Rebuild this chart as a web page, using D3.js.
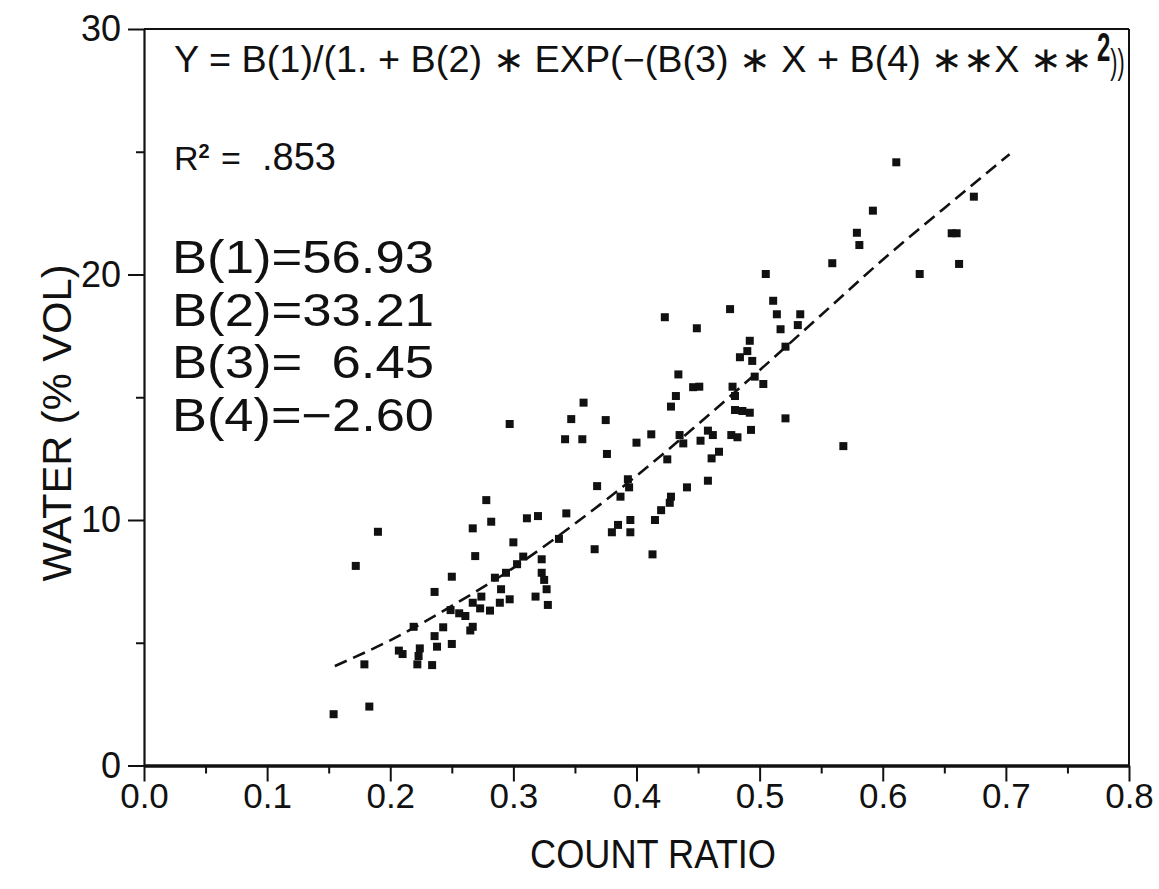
<!DOCTYPE html>
<html><head><meta charset="utf-8">
<script src="https://cdn.jsdelivr.net/npm/d3@7/dist/d3.min.js"></script>
<style>
html,body{margin:0;padding:0;background:#fff;}
svg text{font-family:"Liberation Sans",Arial,sans-serif;fill:#111;}
</style></head>
<body>
<svg id="chart" width="1159" height="889"></svg>
<script>
// ---- data ----
const countRatio = [0.172,0.236,0.219,0.236,0.238,0.207,0.210,0.224,0.223,0.222,0.234,0.179,0.183,0.154,
0.357,0.347,0.342,0.356,0.297,0.368,0.278,0.282,0.267,0.311,0.320,0.343,0.190,0.300,0.269,0.337,0.366,0.308,0.303,0.323,
0.250,0.323,0.325,0.327,0.318,0.328,0.285,0.294,0.290,0.274,0.267,0.273,0.281,0.289,0.297,0.249,0.256,0.261,0.243,0.267,
0.559,0.505,0.511,0.476,0.514,0.533,0.423,0.531,0.449,0.517,0.492,0.521,0.490,0.484,0.494,0.434,0.496,0.503,0.446,0.451,
0.478,0.432,0.480,0.428,0.375,0.480,0.486,0.492,0.521,0.412,0.400,0.435,0.438,0.458,0.462,0.452,0.477,0.482,0.493,0.568,
0.376,0.425,0.467,0.461,0.393,0.394,0.441,0.458,0.387,0.428,
0.611,0.674,0.592,0.579,0.581,0.656,0.660,0.662,0.630,
0.380,0.385,0.395,0.395,0.413,0.415,0.420,0.427,0.250,0.265];
const water = [8.13,7.07,5.65,5.27,4.84,4.68,4.54,4.77,4.46,4.12,4.09,4.12,2.40,2.09,
14.78,14.11,13.29,13.29,13.91,11.38,10.81,9.93,9.66,10.07,10.16,10.27,9.52,9.09,8.53,9.23,8.81,8.51,8.20,8.40,
7.69,7.85,7.56,7.18,6.88,6.54,7.65,7.85,7.18,6.88,6.63,6.40,6.31,6.63,6.77,6.33,6.20,6.09,5.63,5.65,
20.46,20.02,18.93,18.59,18.38,18.38,18.26,17.94,17.81,17.77,17.30,17.06,16.88,16.63,16.48,15.93,15.84,15.54,15.41,15.43,
15.43,15.05,15.05,14.62,14.07,14.48,14.44,14.37,14.14,13.49,13.15,13.46,13.12,13.64,13.46,13.23,13.46,13.37,13.67,13.01,
12.69,12.47,12.78,12.51,11.66,11.33,11.33,11.60,10.95,10.95,
24.57,23.17,22.60,21.70,21.20,21.68,21.68,20.43,20.02,
9.5,9.8,9.5,10.0,8.6,10.0,10.4,10.7,4.95,5.5];

// fitted curve
const fitX = [0.155,0.20,0.25,0.30,0.35,0.40,0.45,0.50,0.55,0.60,0.65,0.703];
const fitY = [4.05,5.10,6.50,8.05,9.85,11.80,13.90,16.10,18.35,20.60,22.70,24.90];

const xTicks = [0,0.1,0.2,0.3,0.4,0.5,0.6,0.7,0.8];
const xTickLabels = ["0.0","0.1","0.2","0.3","0.4","0.5","0.6","0.7","0.8"];
const xMinorTicks = [0.05,0.15,0.25,0.35,0.45,0.55,0.65,0.75];
const yTicks = [0,10,20,30];
const yTickLabels = ["0","10","20","30"];
const yMinorTicks = [5,15,25];

const paramLabels = ["B(1)=56.93","B(2)=33.21","B(3)=  6.45","B(4)=\u22122.60"];

// ---- drawing ----
const svg = d3.select("#chart");
const x = d3.scaleLinear().domain([0,0.8]).range([144,1129]);
const y = d3.scaleLinear().domain([0,30]).range([765.5,29]);

// frame top & right
svg.append("line").attr("x1",x(0)).attr("x2",x(0.8)).attr("y1",y(30)).attr("y2",y(30)).attr("stroke","#111").attr("stroke-width",2);
svg.append("line").attr("x1",x(0.8)).attr("x2",x(0.8)).attr("y1",y(30)).attr("y2",y(0)).attr("stroke","#111").attr("stroke-width",2);

// x axis
const gx = svg.append("g").attr("transform",`translate(0,${y(0)})`)
  .call(d3.axisBottom(x).tickValues(xTicks).tickFormat((d,i)=>xTickLabels[i]).tickSize(16).tickPadding(2).tickSizeOuter(0));
const gxm = svg.append("g").attr("transform",`translate(0,${y(0)})`)
  .call(d3.axisBottom(x).tickValues(xMinorTicks).tickFormat("").tickSize(8).tickSizeOuter(0));
// y axis
const gy = svg.append("g").attr("transform",`translate(${x(0)},0)`)
  .call(d3.axisLeft(y).tickValues(yTicks).tickFormat((d,i)=>yTickLabels[i]).tickSize(16).tickPadding(7).tickSizeOuter(0));
const gym = svg.append("g").attr("transform",`translate(${x(0)},0)`)
  .call(d3.axisLeft(y).tickValues(yMinorTicks).tickFormat("").tickSize(8).tickSizeOuter(0));

[gx,gxm,gy,gym].forEach(g=>{
  g.selectAll("path.domain").attr("stroke","#111");
  g.selectAll(".tick line").attr("stroke","#111").attr("stroke-width",2);
});
gx.select("path.domain").attr("stroke-width",3.5);
gy.select("path.domain").attr("stroke-width",2.2);
gxm.select("path.domain").attr("stroke","none");
gym.select("path.domain").attr("stroke","none");
gx.selectAll(".tick text").attr("font-size",35).attr("fill","#111").attr("font-family","Liberation Sans, Arial, sans-serif");
gy.selectAll(".tick text").attr("font-size",36).attr("fill","#111").attr("font-family","Liberation Sans, Arial, sans-serif");

// axis titles
svg.append("text").attr("x",653).attr("y",868).attr("text-anchor","middle")
  .attr("font-size",40).attr("textLength",246).attr("lengthAdjust","spacingAndGlyphs").text("COUNT RATIO");
svg.append("text").attr("transform","translate(71,423) rotate(-90)").attr("text-anchor","middle")
  .attr("font-size",40).attr("textLength",317).attr("lengthAdjust","spacingAndGlyphs").text("WATER (% VOL)");

// equation
svg.append("text").attr("x",174).attr("y",72).attr("font-size",36)
  .attr("textLength",919).attr("lengthAdjust","spacingAndGlyphs")
  .text("Y = B(1)/(1. + B(2) \u2217 EXP(\u2212(B(3) \u2217 X + B(4) \u2217\u2217X \u2217\u2217");
const tail = svg.append("text").attr("transform","translate(1097,0) scale(0.6,1)");
tail.append("tspan").attr("x",0).attr("y",61).attr("font-size",40).attr("font-weight","bold").text("2");
tail.append("tspan").attr("y",74).attr("font-size",36).text("))");

// R^2
const r2 = svg.append("text").attr("x",174).attr("y",170).attr("font-size",34);
r2.append("tspan").text("R");
r2.append("tspan").attr("y",158).attr("font-size",20).attr("font-weight","bold").text("2");
r2.append("tspan").attr("x",221).attr("y",170).text("=");
r2.append("tspan").attr("x",262).attr("font-size",38).text(".853");

// parameters
svg.selectAll("text.param").data(paramLabels).join("text").attr("class","param")
  .attr("x",172).attr("y",(d,i)=>273+i*52.5).attr("font-size",46)
  .attr("textLength",262).attr("lengthAdjust","spacingAndGlyphs")
  .style("white-space","pre").text(d=>d);

// fitted dashed curve
const line = d3.line().x(d=>x(d[0])).y(d=>y(d[1])).curve(d3.curveMonotoneX);
svg.append("path").datum(fitX.map((v,i)=>[v,fitY[i]])).attr("d",line)
  .attr("fill","none").attr("stroke","#111").attr("stroke-width",2.6).attr("stroke-dasharray","13,7");

// points
svg.selectAll("rect.pt").data(countRatio.map((v,i)=>[v,water[i]])).join("rect").attr("class","pt")
  .attr("x",d=>x(d[0])-4).attr("y",d=>y(d[1])-4).attr("width",8).attr("height",8).attr("fill","#111");
</script>
</body></html>
